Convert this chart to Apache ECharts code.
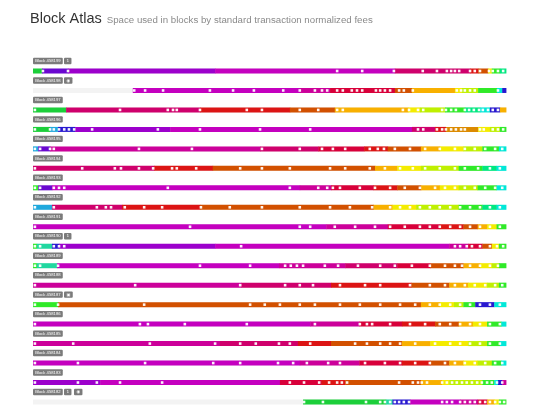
<!DOCTYPE html>
<html><head><meta charset="utf-8">
<script src="https://cdn.jsdelivr.net/npm/echarts@6/dist/echarts.min.js"></script>
<style>html,body{margin:0;padding:0;background:#fff}#c{width:540px;height:405px}</style>
</head><body><div id="c"></div>
<script>
// ---- data ----
const blocks = ['Block 458199','Block 458198','Block 458197','Block 458196','Block 458195','Block 458194','Block 458193','Block 458192','Block 458191','Block 458190','Block 458189','Block 458188','Block 458187','Block 458186','Block 458185','Block 458184','Block 458183','Block 458182'];
const badges = [['1'],['◉'],[],[],[],[],[],[],[],['1'],[],[],['▣'],[],[],[],[],['1','◉']];
// percent of block space where the filled part begins
const rowStart = [0,21.1,0,0,0,0,0,0,0,0,0,0,0,0,0,0,0,57.1];
// fee bands: [end percent, fee colour key]
const segments = [
  [[1.9,'g'],[7.4,'v'],[38.5,'p'],[76.5,'m'],[92.4,'k'],[94.1,'R'],[96.2,'o'],[97,'y'],[98.7,'G'],[100,'s']],
  [[56.4,'m'],[62.8,'n'],[76.5,'r'],[80.1,'o'],[89.2,'O'],[90.7,'y'],[94.1,'l'],[98.1,'G'],[99.2,'C'],[100,'b']],
  [[7.0,'g'],[35.3,'k'],[54.3,'R'],[63.8,'o'],[79.3,'O'],[81.8,'y'],[87.1,'l'],[91.3,'G'],[94.5,'s'],[96.6,'C'],[98.7,'b'],[100,'O']],
  [[3.6,'g'],[5.3,'c'],[8.9,'b'],[29.0,'p'],[80.1,'m'],[85.0,'k'],[87.3,'R'],[94.1,'a'],[96.6,'y'],[98.7,'l'],[100,'G']],
  [[1.1,'c'],[3.6,'v'],[48.0,'n'],[60.3,'k'],[70,'r'],[75,'R'],[82,'o'],[86,'O'],[91,'y'],[95,'l'],[98.5,'G'],[100,'C']],
  [[25.6,'k'],[38,'R'],[72.3,'o'],[77,'O'],[82,'y'],[90,'l'],[95,'G'],[98,'s'],[100,'C']],
  [[1.1,'G'],[4.0,'v'],[56.4,'m'],[63,'n'],[72,'r'],[77,'R'],[82,'o'],[86,'O'],[90,'y'],[94,'l'],[98,'G'],[100,'C']],
  [[4.0,'c'],[18.8,'k'],[35.3,'R'],[72,'o'],[76,'O'],[81,'y'],[90,'l'],[95,'G'],[98,'s'],[100,'C']],
  [[62,'m'],[75,'n'],[86,'r'],[91,'R'],[94,'o'],[96,'O'],[98,'y'],[100,'G']],
  [[0.8,'G'],[4.0,'t'],[5.5,'b'],[38.5,'p'],[88,'m'],[92,'n'],[95,'r'],[97,'o'],[98.5,'y'],[100,'G']],
  [[0.8,'G'],[5.1,'t'],[52,'m'],[66,'n'],[77,'k'],[84,'r'],[91,'o'],[94.5,'O'],[97,'y'],[98.5,'l'],[100,'G']],
  [[44,'n'],[63,'k'],[80,'R'],[88,'o'],[92,'O'],[96,'y'],[98.5,'l'],[100,'G']],
  [[5.3,'G'],[82,'o'],[86,'O'],[89,'y'],[91,'l'],[93.5,'G'],[97.5,'b'],[100,'C']],
  [[58.6,'m'],[69,'n'],[78,'r'],[85,'R'],[90,'o'],[93,'O'],[96,'y'],[99,'G'],[100,'C']],
  [[39.5,'n'],[56,'k'],[63,'R'],[78,'o'],[84,'O'],[92,'y'],[96,'l'],[98.7,'G'],[100,'C']],
  [[56.4,'m'],[69,'n'],[78,'r'],[84,'R'],[88,'o'],[91,'O'],[94,'y'],[97,'l'],[99,'G'],[100,'C']],
  [[14.2,'p'],[52.2,'m'],[61,'r'],[66,'R'],[82,'o'],[86.5,'O'],[88,'y'],[95,'l'],[97.5,'G'],[98.3,'C'],[99.2,'b'],[100,'n']],
  [[74.6,'g'],[76,'t'],[79.7,'b'],[90.3,'m'],[94,'n'],[96,'r'],[97.5,'O'],[98.5,'y'],[100,'G']]
];
// transactions (percent of block position)
const txDots = [
  [2.1,7.4,64.3,69.6,76.3,82.4,85.4,87.5,88.4,89.2,90.1,92.4,93.4,94.5,96.4,97.2,98.3,99.4],
  [21.4,23.7,27.5,37.4,42.3,46.7,52.9,56.4,59.6,61.1,62.2,64.3,65.5,67.4,68.5,69.6,72.5,73.4,74.4,75.5,77.4,78.4,80.3,89.6,90.5,91.3,92.4,93.4,98.3],
  [0.4,18.4,28.5,29.6,30.4,35.3,45.2,48.4,56.4,60.3,64.3,65.5,78.2,79.5,81.4,82.5,86.5,87.3,88.4,89.4,91.3,92.2,93.2,94.3,95.1,96.2,97.2,98.3],
  [0.4,3.6,4.4,5.5,6.6,7.6,8.7,12.5,26.4,35.3,48.0,58.6,81.4,82.5,85.4,86.5,87.3,88.4,89.4,90.5,91.3,94.5,95.3,97.2,98.3,99.4],
  [0.4,1.5,3.6,4.4,22.4,33.6,48.4,56.4,61.1,63.4,66.0,71.2,72.9,74.2,76.5,79.7,82.9,86.0,89.2,91.3,93.4,95.6,97.7,99.2],
  [0.4,10.4,17.3,18.6,22.4,25.4,29.4,30.4,34.5,43.8,48.4,54.3,62.8,66.0,71.2,74.4,77.6,80.3,82.9,86.0,89.2,91.3,94.1,96.6,98.7],
  [0.4,1.5,4.4,5.5,6.6,28.5,54.3,60.3,62.2,63.4,64.9,69.1,72.3,75.5,78.6,81.8,85.0,87.1,89.2,91.3,93.4,95.6,97.7,99.2],
  [0.4,4.4,13.5,15.4,16.5,19.4,23.5,27.3,35.5,41.6,48.4,56.4,62.8,67.0,71.7,75.5,77.6,79.7,81.8,83.9,86.0,88.2,90.3,92.4,94.5,96.6,98.7],
  [0.4,33.2,56.4,58.6,63.8,68.1,72.3,75.5,78.6,81.8,83.9,86.0,88.2,90.3,92.4,94.5,96.6,98.7],
  [0.4,1.5,4.4,5.5,6.6,44.0,89.2,90.3,91.7,92.8,94.5,96.6,98.1,99.4],
  [0.4,1.5,5.3,35.3,45.9,53.3,54.5,55.8,57.1,61.7,64.5,68.7,73.4,76.5,80.1,83.9,87.1,89.2,90.7,92.4,94.5,96.6,98.3],
  [0.4,21.6,43.8,53.3,56.4,59.2,64.9,70.2,73.4,79.7,83.9,87.1,89.2,91.3,93.4,95.6,97.7,99.2],
  [0.4,5.3,23.5,45.9,49.0,52.2,56.4,59.6,64.9,69.1,73.4,77.6,80.8,83.9,86.0,88.2,90.3,92.4,94.5,96.6,98.7],
  [0.4,22.6,24.3,32.1,45.2,59.6,69.1,70.6,71.7,75.5,79.7,82.9,86.0,88.2,90.3,92.4,94.5,96.6,98.7],
  [0.4,8.5,24.7,38.5,43.8,47.1,52.0,54.3,58.6,68.1,70.6,73.4,75.5,77.6,80.8,85.0,88.2,90.3,92.4,94.5,96.6,98.7],
  [0.4,9.5,23.7,38.1,43.8,51.8,55.0,57.9,62.4,64.9,70.2,74.4,77.6,80.8,83.9,87.1,89.2,91.3,93.4,95.6,97.7,99.2],
  [0.4,9.5,13.5,18.4,27.3,54.3,57.3,60.5,62.6,64.3,65.3,66.4,77.4,80.3,81.4,82.2,83.3,86.5,87.5,88.6,89.6,90.7,91.7,92.8,93.9,94.9,96.0,97.0,98.1,99.2],
  [57.3,61.3,70.4,73.4,74.4,75.5,76.5,77.4,78.4,79.5,86.5,87.5,88.6,90.3,91.3,92.4,93.4,94.5,95.6,96.6,97.7,98.7,99.6]
];
// ---- styling ----
const feeColors = {g:'#1ccf3a',t:'#20d8a0',c:'#1fa8dd',b:'#2818d0',v:'#6a08d0',p:'#9c00cc',m:'#c400bf',n:'#cc009a',k:'#cf006c',r:'#d8003a',R:'#dc1414',o:'#d25000',a:'#dc8a00',O:'#f8b000',y:'#f4ec00',l:'#bff000',G:'#30ea28',s:'#00e880',C:'#00e8d8'};
const keys = Object.keys(feeColors);

const segData = [], trackData = [], dotData = [], labelData = [];
segments.forEach((segs, row) => {
  let s = rowStart[row];
  trackData.push([0, 100, row]);
  segs.forEach(([e, k]) => { segData.push([s, e, row, keys.indexOf(k)]); s = e; });
  txDots[row].forEach(x => dotData.push([x, row]));
  labelData.push([0, row]);
});
const BAR_H = 5;
function barItem(fillFn) {
  return function (params, api) {
    const p0 = api.coord([api.value(0), api.value(2)]);
    const p1 = api.coord([api.value(1), api.value(2)]);
    return {type:'rect', shape:{x:p0[0], y:p0[1]-BAR_H/2, width:p1[0]-p0[0]+0.4, height:BAR_H},
      style:{fill: fillFn(api)}};
  };
}
const chart = echarts.init(document.getElementById('c'), null, {renderer:'canvas'});
chart.setOption({
  animation:false,
  backgroundColor:'#fff',
  title:{left:25, top:5, text:'{a|Block Atlas} {b|Space used in blocks by standard transaction normalized fees}',
    textStyle:{fontWeight:'normal', rich:{a:{fontSize:14.5,color:'#333',fontWeight:'normal',fontFamily:'Liberation Sans, Arial, sans-serif'},
      b:{fontSize:9.7,color:'#8a8a8a',fontWeight:'normal',fontFamily:'Liberation Sans, Arial, sans-serif',padding:[2,0,0,0]}}}},
  grid:{left:33, right:34, top:71, bottom:3},
  xAxis:{type:'value', min:0, max:100, show:false},
  yAxis:{type:'value', min:0, max:17, inverse:true, show:false},
  series:[
    {type:'custom', clip:false, data:trackData, encode:{x:[0,1], y:2}, renderItem:barItem(() => '#f3f3f3'), z:1},
    {type:'custom', clip:false, data:segData, encode:{x:[0,1], y:2}, renderItem:barItem(api => feeColors[keys[api.value(3)]]), z:2},
    {type:'scatter', data:dotData, symbol:'rect', symbolSize:2.6, itemStyle:{color:'#ffffff', opacity:0.95}, z:3, silent:true},
    {type:'custom', clip:false, data:labelData, encode:{x:0, y:1}, z:4,
      renderItem:function(params, api){
        const row = api.value(1);
        const p = api.coord([0, row]);
        const y = p[1] - 10;
        const children = [{type:'text', style:{text:blocks[row], x:p[0], y:y, verticalAlign:'middle',
          fill:'#fff', fontSize:4.2, fontFamily:'Liberation Sans, Arial, sans-serif', backgroundColor:'#7b7b7b',
          padding:[1.2,2.2,1.2,2.2], borderRadius:1}}];
        (badges[row] || []).forEach((b, i) => {
          children.push({type:'text', style:{text:b, x:p[0]+31+i*10, y:y, verticalAlign:'middle',
            fill:'#fff', fontSize:4.2, fontFamily:'DejaVu Sans, sans-serif', backgroundColor:'#7b7b7b',
            padding:[1.2,2.4,1.2,2.4], borderRadius:1}});
        });
        return {type:'group', children};
      }}
  ]
});
</script></body></html>
